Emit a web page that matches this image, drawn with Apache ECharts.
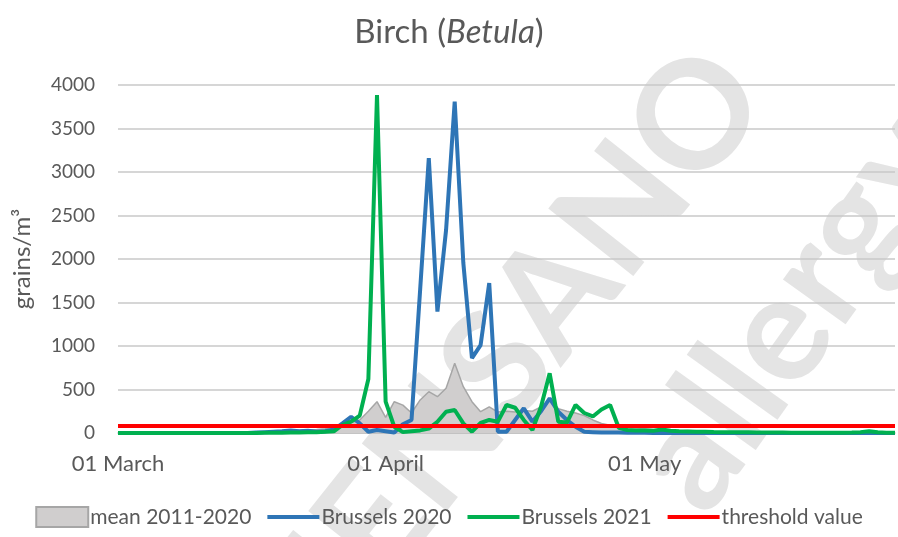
<!DOCTYPE html>
<html lang="en">
<head>
    <meta charset="UTF-8">
    <title>Birch (Betula)</title>
    <script src="https://cdn.jsdelivr.net/npm/echarts@6/dist/echarts.min.js"></script>
    <style>
        html, body { margin: 0; padding: 0; background: #fff; }
        #main { width: 898px; height: 537px; }
    </style>
</head>
<body>
<div id="main"></div>
<script>
// daily values, 01 March .. 30 May
var days = [];
var monthNames = ['March', 'April', 'May'];
var monthLen = [31, 30, 30];
monthLen.forEach(function (n, m) {
    for (var d = 1; d <= n; d++) {
        days.push((d < 10 ? '0' + d : '' + d) + ' ' + monthNames[m]);
    }
});
var tickLabels = ['01 March', '01 April', '01 May'];

var mean2011_2020 = [
    0, 0, 0, 0, 0, 0, 0, 0, 0, 0,
    2, 3, 3, 5, 5, 8, 10, 12, 15, 20,
    25, 30, 35, 40, 50, 70, 100, 120, 150, 250,
    360, 180, 360, 320, 230, 380, 475, 417, 514, 801,
    532, 360, 245, 300, 240, 250, 240, 260, 250, 300,
    380, 280, 250, 230, 200, 150, 110, 90, 80, 70,
    60, 50, 40, 35, 30, 25, 20, 15, 12, 10,
    8, 6, 5, 4, 3, 3, 2, 2, 1, 1,
    0, 0, 0, 0, 0, 0, 0, 0, 0, 0, 0
];
var brussels2020 = [
    0, 0, 0, 0, 0, 0, 0, 0, 0, 0,
    0, 0, 0, 0, 0, 0, 5, 10, 15, 20,
    30, 20, 25, 15, 20, 40, 111, 187, 111, 15,
    35, 20, 5, 100, 150, 1650, 3160, 1395, 2333, 3808,
    1954, 860, 1011, 1724, 15, 15, 150, 284, 130, 250,
    398, 245, 150, 72, 15, 10, 5, 5, 5, 3,
    2, 2, 1, 1, 0, 0, 0, 0, 0, 0,
    0, 0, 0, 0, 0, 0, 0, 0, 0, 0,
    0, 0, 0, 0, 0, 0, 0, 0, 0, 0, 0
];
var brussels2021 = [
    0, 0, 0, 0, 0, 0, 0, 0, 0, 0,
    0, 0, 0, 0, 0, 0, 0, 2, 2, 3,
    5, 5, 10, 10, 15, 20, 92, 130, 200, 620,
    3885, 360, 72, 10, 20, 30, 50, 130, 245, 264,
    111, 15, 115, 150, 130, 322, 290, 150, 35, 302,
    686, 130, 120, 322, 230, 190, 270, 322, 60, 35,
    30, 30, 25, 40, 25, 20, 18, 15, 15, 12,
    10, 10, 8, 8, 6, 5, 5, 5, 4, 4,
    3, 3, 3, 2, 2, 5, 10, 20, 8, 3, 2
];
var thresholdValue = 80;
var threshold = days.map(function () { return thresholdValue; });

var myChart = echarts.init(document.getElementById('main'));

var textColor = '#595959';
var font = 'Lato';

// legend entries for the lines: a plain bar, no marker
function lineLegend(name, color) {
    return {
        name: name,
        itemStyle: { opacity: 0 },
        lineStyle: { color: color, width: 4 }
    };
}

var option = {
    animation: false,
    title: {
        text: '{n|Birch (}{i|Betula}{n|)}',
        left: 'center',
        top: 11,
        textStyle: {
            rich: {
                n: { fontSize: 33, color: textColor, fontFamily: font, fontWeight: 'normal' },
                i: { fontSize: 33, color: textColor, fontFamily: font, fontWeight: 'normal', fontStyle: 'italic' }
            }
        }
    },
    // watermark
    graphic: [
        {
            type: 'text',
            x: 735, y: 70,
            rotation: 0.9,
            silent: true,
            z: -10,
            style: {
                text: 'SCIENSANO',
                align: 'right',
                verticalAlign: 'middle',
                fontSize: 150,
                fontWeight: 'bold',
                fontFamily: font,
                fill: '#e4e4e4'
            }
        },
        {
            type: 'text',
            x: 925, y: 130,
            rotation: 0.95,
            silent: true,
            z: -10,
            style: {
                text: 'allergy',
                align: 'right',
                verticalAlign: 'middle',
                fontSize: 150,
                fontWeight: 'bold',
                fontFamily: font,
                fill: '#e4e4e4'
            }
        }
    ],
    legend: {
        bottom: 4,
        left: 'center',
        itemWidth: 52,
        itemHeight: 20,
        itemGap: 14,
        textStyle: { fontSize: 21, color: textColor, fontFamily: font, padding: [0, 0, 0, -3] },
        data: [
            { name: 'mean 2011-2020', icon: 'rect' },
            lineLegend('Brussels 2020', '#2e75b6'),
            lineLegend('Brussels 2021', '#00b050'),
            lineLegend('threshold value', '#ff0000')
        ]
    },
    grid: {
        left: 118,
        right: 3,
        top: 85,
        bottom: 104
    },
    xAxis: {
        type: 'category',
        data: days,
        boundaryGap: false,
        axisLine: { lineStyle: { color: '#bfbfbf', width: 1.5 } },
        axisTick: { show: false },
        axisLabel: {
            interval: 0,
            color: textColor,
            fontSize: 22,
            fontFamily: font,
            margin: 20,
            formatter: function (v) {
                return tickLabels.indexOf(v) >= 0 ? v : '';
            }
        },
        splitLine: { show: false }
    },
    yAxis: {
        type: 'value',
        min: 0,
        max: 4000,
        interval: 500,
        name: 'grains/m³',
        nameLocation: 'middle',
        nameRotate: 90,
        nameGap: 84,
        nameTextStyle: { fontSize: 24, color: textColor, fontFamily: font },
        axisLine: { show: false },
        axisTick: { show: false },
        axisLabel: {
            color: textColor, fontSize: 19, fontFamily: font, margin: 23,
            formatter: function (v) { return String(v); }
        },
        splitLine: { lineStyle: { color: '#c9c9c9', width: 1.5 } }
    },
    series: [
        {
            name: 'mean 2011-2020',
            type: 'line',
            data: mean2011_2020,
            symbol: 'none',
            lineStyle: { color: '#a6a6a6', width: 1.5 },
            areaStyle: { color: '#d0cece', opacity: 1 },
            itemStyle: { color: '#d0cece', borderColor: '#a6a6a6', borderWidth: 2 },
            z: 1
        },
        {
            name: 'Brussels 2020',
            type: 'line',
            data: brussels2020,
            symbol: 'none',
            lineStyle: { color: '#2e75b6', width: 4 },
            itemStyle: { color: '#2e75b6' },
            z: 2
        },
        {
            name: 'Brussels 2021',
            type: 'line',
            data: brussels2021,
            symbol: 'none',
            lineStyle: { color: '#00b050', width: 4 },
            itemStyle: { color: '#00b050' },
            z: 3
        },
        {
            name: 'threshold value',
            type: 'line',
            data: threshold,
            symbol: 'none',
            lineStyle: { color: '#ff0000', width: 4 },
            itemStyle: { color: '#ff0000' },
            z: 4
        }
    ]
};

myChart.setOption(option);
</script>
</body>
</html>
